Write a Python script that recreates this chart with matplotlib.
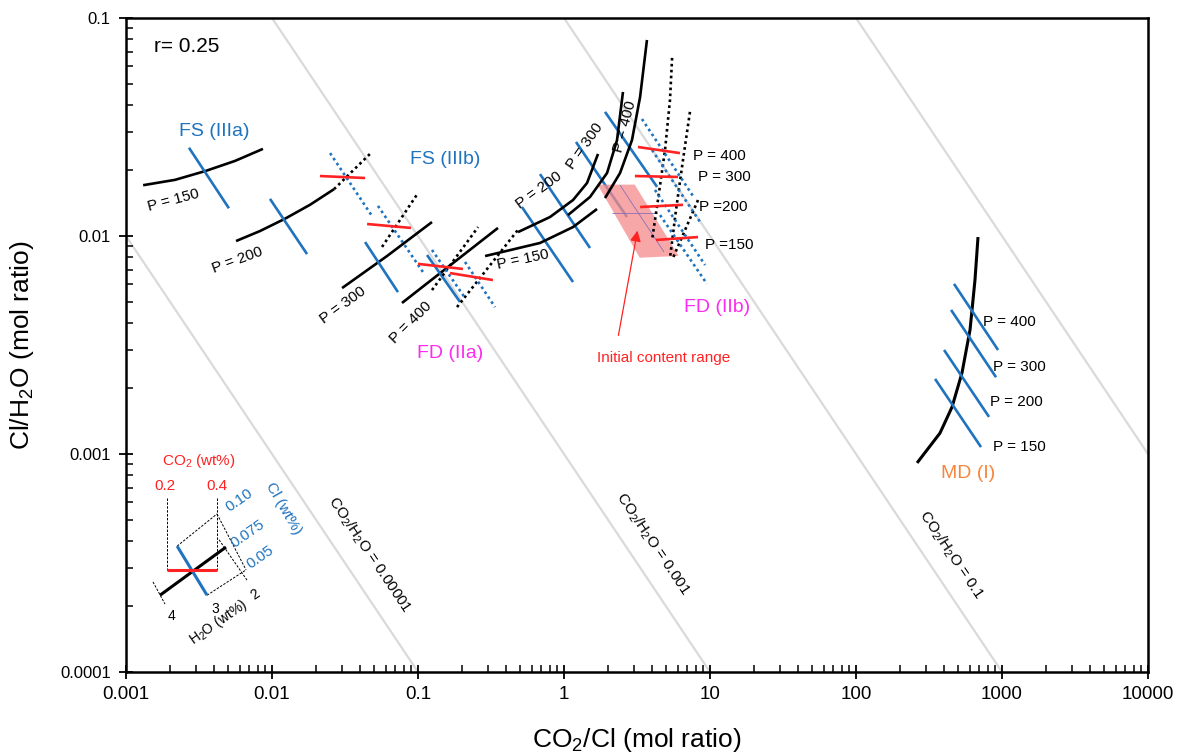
import numpy as np
import matplotlib
matplotlib.use('Agg')
import matplotlib.pyplot as plt
from matplotlib.ticker import FixedLocator, FuncFormatter, LogLocator, NullFormatter

plt.rcParams['font.family'] = ['Liberation Sans', 'DejaVu Sans']
plt.rcParams['mathtext.fontset'] = 'custom'
plt.rcParams['mathtext.rm'] = 'Liberation Sans'
plt.rcParams['mathtext.it'] = 'Liberation Sans:italic'

BLUE = '#1f73bf'
RED = '#ff2222'
MAGENTA = '#fb2cf0'
ORANGE = '#f5863b'
GREY = '#dadada'
PINK = '#f58a8a'

# ---------------- data ----------------
iso_ratio = [1e-5, 1e-3, 1e-1, 10]
iso_x_span = [1e-4, 1e5]

# FS (IIIa): solid H2O curves (black) and Cl lines (blue)
fs3a_p150_x = [0.00131, 0.00217, 0.00353, 0.00558, 0.00867]
fs3a_p150_y = [0.0171, 0.0181, 0.0199, 0.0221, 0.0251]
fs3a_p200_x = [0.00567, 0.00828, 0.01227, 0.0182, 0.0266]
fs3a_p200_y = [0.00948, 0.01054, 0.0120, 0.0139, 0.0164]
fs3a_p300_x = [0.0302, 0.0613, 0.1247]
fs3a_p300_y = [0.00577, 0.00809, 0.01159]
fs3a_p400_x = [0.0777, 0.353]
fs3a_p400_y = [0.00493, 0.01089]
fs3a_cl_x = [[0.0027, 0.00507], [0.00969, 0.01738], [0.0434, 0.0729], [0.1153, 0.194]]
fs3a_cl_y = [[0.0254, 0.0134], [0.0148, 0.00826], [0.00938, 0.00553], [0.00818, 0.00498]]

# FS (IIIb): dotted H2O (black), dotted Cl (blue), CO2 (red)
fs3b_h2o_x = [[0.0266, 0.0484], [0.0567, 0.1], [0.1247, 0.258], [0.185, 0.484]]
fs3b_h2o_y = [[0.0164, 0.0243], [0.00891, 0.01574], [0.00565, 0.01099], [0.00472, 0.01067]]
fs3b_cl_x = [[0.0250, 0.0484], [0.0532, 0.108], [0.1247, 0.210], [0.210, 0.337]]
fs3b_cl_y = [[0.0240, 0.01236], [0.01374, 0.00684], [0.00863, 0.0052], [0.0076, 0.00472]]
fs3b_co2_x = [[0.0213, 0.0434], [0.0448, 0.0895], [0.1, 0.203], [0.1656, 0.326]]
fs3b_co2_y = [[0.01884, 0.01845], [0.01135, 0.01089], [0.00745, 0.00706], [0.00676, 0.00628]]

# FD (IIb): solid H2O curves
fd2b_p150_x = [0.288, 0.685, 1.153, 1.683]
fd2b_p150_y = [0.00809, 0.00929, 0.01099, 0.0133]
fd2b_p200_x = [0.484, 0.802, 1.153, 1.438, 1.710]
fd2b_p200_y = [0.01042, 0.01222, 0.01462, 0.0175, 0.0238]
fd2b_p300_x = [1.064, 1.507, 1.972, 2.307, 2.535]
fd2b_p300_y = [0.01247, 0.0151, 0.01945, 0.0275, 0.0458]
fd2b_p400_x = [1.910, 2.42, 2.92, 3.32, 3.70]
fd2b_p400_y = [0.01493, 0.01945, 0.0275, 0.0434, 0.0793]
fd2b_cl_x = [[0.515, 1.153], [0.685, 1.507], [1.208, 2.70], [1.910, 4.34]]
fd2b_cl_y = [[0.01358, 0.00615], [0.01923, 0.00881], [0.0270, 0.01222], [0.0371, 0.0168]]
# FD (IIb): dotted H2O / Cl and CO2 at P = 400, 300, 200, 150
fd2b_dh2o_x = [[5.50, 5.32, 4.92, 4.40, 4.01], [7.29, 6.53, 5.85, 5.32], [8.28, 5.50]]
fd2b_dh2o_y = [[0.0656, 0.0421, 0.0248, 0.01462, 0.00959], [0.0371, 0.0223, 0.01315, 0.00792], [0.01462, 0.00776]]
fd2b_dcl_x = [[3.42, 7.65], [4.01, 8.55], [4.20, 9.25], [4.55, 9.53]]
fd2b_dcl_y = [[0.0344, 0.01525], [0.0248, 0.01159], [0.01626, 0.00736], [0.01247, 0.00603]]
fd2b_co2_x = [[3.21, 6.23], [3.06, 6.04], [3.32, 6.53], [4.27, 8.28]]
fd2b_co2_y = [[0.0256, 0.0240], [0.01884, 0.01866], [0.01358, 0.0139], [0.00959, 0.00989]]

# Initial content range (pink box)
init_x = [1.70, 3.05, 6.10, 3.30]
init_y = [0.0172, 0.0172, 0.00810, 0.00795]
init_grid_x = [[2.42, 4.84], [2.13, 4.34]]
init_grid_y = [[0.0171, 0.00845], [0.01276, 0.01276]]
arrow_from = (2.34, 0.0034)
arrow_to = (3.21, 0.01089)

# MD (I)
md_x = [685, 653, 604, 532, 455, 376, 262]
md_y = [0.00989, 0.00628, 0.00371, 0.002355, 0.001644, 0.001247, 0.00091]
md_cl_x = [[469, 940], [448, 910], [401, 815], [348, 718]]
md_cl_y = [[0.00603, 0.0030], [0.00458, 0.00225], [0.0030, 0.00148], [0.00221, 0.001076]]

# key (inset scale)
key_co2_x = [0.00191, 0.0042]
key_co2_y = [0.000294, 0.000294]
key_h2o_x = [0.00171, 0.00484]
key_h2o_y = [0.000225, 0.000374]
key_cl_x = [0.00224, 0.00359]
key_cl_y = [0.000378, 0.000225]
key_guides_x = [[0.00191, 0.00191], [0.0042, 0.0042], [0.00224, 0.0042], [0.00359, 0.00664],
                [0.0042, 0.00664], [0.00153, 0.00185], [0.00434, 0.00674]]
key_guides_y = [[0.000628, 0.000294], [0.000628, 0.000294], [0.000378, 0.000531], [0.000225, 0.000294],
                [0.000531, 0.000294], [0.000259, 0.000205], [0.000404, 0.000264]]

xticks = [0.001, 0.01, 0.1, 1, 10, 100, 1000, 10000]
yticks = [0.0001, 0.001, 0.01, 0.1]

# ---------------- figure ----------------
fig = plt.figure(figsize=(11.83, 7.54), dpi=100)
ax = fig.add_axes([126 / 1183, 82 / 754, 1022 / 1183, 654 / 754])
ax.set_xscale('log')
ax.set_yscale('log')
ax.set_xlim(1e-3, 1e4)
ax.set_ylim(1e-4, 1e-1)

LW = 1.9
DOT = (0, (1, 1.25))

for c in iso_ratio:
    xs = np.array(iso_x_span)
    ax.plot(xs, c / xs, color=GREY, lw=1.6, zorder=1)

def seg(xs, ys, color, ls='-', lw=LW, z=3):
    ax.plot(xs, ys, color=color, ls=ls, lw=lw, zorder=z, solid_capstyle='butt')

# FS IIIa
for xs, ys in [(fs3a_p150_x, fs3a_p150_y), (fs3a_p200_x, fs3a_p200_y),
               (fs3a_p300_x, fs3a_p300_y), (fs3a_p400_x, fs3a_p400_y)]:
    seg(xs, ys, 'black')
for xs, ys in zip(fs3a_cl_x, fs3a_cl_y):
    seg(xs, ys, BLUE)
# FS IIIb
for xs, ys in zip(fs3b_h2o_x, fs3b_h2o_y):
    seg(xs, ys, 'black', DOT)
for xs, ys in zip(fs3b_cl_x, fs3b_cl_y):
    seg(xs, ys, BLUE, DOT)
for xs, ys in zip(fs3b_co2_x, fs3b_co2_y):
    seg(xs, ys, RED, z=4)

# FD IIb
for xs, ys in zip(fd2b_cl_x, fd2b_cl_y):
    seg(xs, ys, BLUE)
ax.fill(init_x, init_y, color=PINK, alpha=0.75, lw=0, zorder=3.5)
for xs, ys in zip(init_grid_x, init_grid_y):
    seg(xs, ys, '#8a6fb8', lw=0.6, z=3.6)
for xs, ys in [(fd2b_p150_x, fd2b_p150_y), (fd2b_p200_x, fd2b_p200_y),
               (fd2b_p300_x, fd2b_p300_y), (fd2b_p400_x, fd2b_p400_y)]:
    seg(xs, ys, 'black', z=4)
for xs, ys in zip(fd2b_dh2o_x, fd2b_dh2o_y):
    seg(xs, ys, 'black', DOT, z=4)
for xs, ys in zip(fd2b_dcl_x, fd2b_dcl_y):
    seg(xs, ys, BLUE, DOT, z=4)
for xs, ys in zip(fd2b_co2_x, fd2b_co2_y):
    seg(xs, ys, RED, z=5)
ax.annotate('', xy=arrow_to, xytext=arrow_from,
            arrowprops=dict(arrowstyle='-|>', color=RED, lw=0.9, mutation_scale=16), zorder=6)

# MD I
seg(md_x, md_y, 'black', lw=2.2)
for xs, ys in zip(md_cl_x, md_cl_y):
    seg(xs, ys, BLUE)

# key
for xs, ys in zip(key_guides_x, key_guides_y):
    seg(xs, ys, 'black', (0, (2.5, 1.5)), lw=0.7)
seg(key_h2o_x, key_h2o_y, 'black', lw=2.2)
seg(key_cl_x, key_cl_y, BLUE, lw=2.2)
seg(key_co2_x, key_co2_y, RED, lw=2.2)

# ---------------- axes styling ----------------
for s in ax.spines.values():
    s.set_linewidth(1.8)
ax.xaxis.set_major_locator(FixedLocator(xticks))
ax.yaxis.set_major_locator(FixedLocator(yticks))
ax.xaxis.set_minor_locator(LogLocator(base=10, subs=np.arange(2, 10)))
ax.yaxis.set_minor_locator(LogLocator(base=10, subs=np.arange(2, 10)))
ax.xaxis.set_minor_formatter(NullFormatter())
ax.yaxis.set_minor_formatter(NullFormatter())
fmt = FuncFormatter(lambda v, p: '%g' % v)
ax.xaxis.set_major_formatter(fmt)
ax.yaxis.set_major_formatter(fmt)
ax.tick_params(which='major', direction='inout', length=10, width=1.3)
ax.tick_params(which='minor', direction='in', length=5, width=1.1)
ax.tick_params(axis='x', which='major', labelsize=13.5, pad=5)
ax.tick_params(axis='y', which='major', labelsize=12, pad=6)

fig.text(637 / 1183, 1 - 740 / 754, r'CO$\mathregular{_2}$/Cl (mol ratio)', fontsize=19,
         ha='center', va='center')
fig.text(22 / 1183, 1 - 345 / 754, r'Cl/H$\mathregular{_2}$O (mol ratio)', fontsize=19,
         ha='center', va='center', rotation=90)

def T(px, py, s, **kw):
    kw.setdefault('ha', 'center')
    kw.setdefault('va', 'center')
    kw.setdefault('rotation_mode', 'anchor')
    ax.text((px - 126) / 1022, (672 - py) / 654, s, transform=ax.transAxes, zorder=8, **kw)

T(187, 46, 'r= 0.25', fontsize=15)
T(214, 131, 'FS (IIIa)', fontsize=14, color=BLUE)
T(445, 159, 'FS (IIIb)', fontsize=14, color=BLUE)
T(450, 354, 'FD (IIa)', fontsize=14, color=MAGENTA)
T(717, 308, 'FD (IIb)', fontsize=14, color=MAGENTA)
T(968, 473, 'MD (I)', fontsize=14, color=ORANGE)
T(664, 358, 'Initial content range', fontsize=11, color=RED)

for px, py, s, r in [(173, 200, 'P = 150', 15), (237, 260, 'P = 200', 20),
                     (343, 305, 'P = 300', 36), (411, 323, 'P = 400', 45),
                     (523, 260, 'P = 150', 12), (539, 190, 'P = 200', 36),
                     (585, 146, 'P = 300', 55), (625, 126, 'P = 400', 75)]:
    T(px, py, s, fontsize=11, rotation=r)
for px, py, s in [(693, 156, 'P = 400'), (698, 177, 'P = 300'), (699, 207, 'P =200'),
                  (705, 245, 'P =150'), (983, 322, 'P = 400'), (993, 367, 'P = 300'),
                  (990, 402, 'P = 200'), (993, 447, 'P = 150')]:
    T(px, py, s, fontsize=11, ha='left')

for px, py, s in [(369, 555, '0.00001'), (653, 544, '0.001'), (951, 555, '0.1')]:
    T(px, py, r'CO$\mathregular{_2}$/H$\mathregular{_2}$O = ' + s, fontsize=11, rotation=-56)

# key texts
T(199, 461, r'CO$\mathregular{_2}$ (wt%)', fontsize=11, color=RED)
T(165, 486, '0.2', fontsize=11, color=RED)
T(217, 486, '0.4', fontsize=11, color=RED)
T(239, 500, '0.10', fontsize=11, color=BLUE, rotation=35)
T(248, 534, '0.075', fontsize=11, color=BLUE, rotation=35)
T(260, 557, '0.05', fontsize=11, color=BLUE, rotation=35)
T(283, 509, 'Cl (wt%)', fontsize=11, color=BLUE, rotation=-60)
T(171, 616, '4', fontsize=10)
T(215, 609, '3', fontsize=10)
T(255, 594, '2', fontsize=10, rotation=35)
T(218, 622, r'H$\mathregular{_2}$O (wt%)', fontsize=10, rotation=35)

fig.savefig('out.png', dpi=100)
